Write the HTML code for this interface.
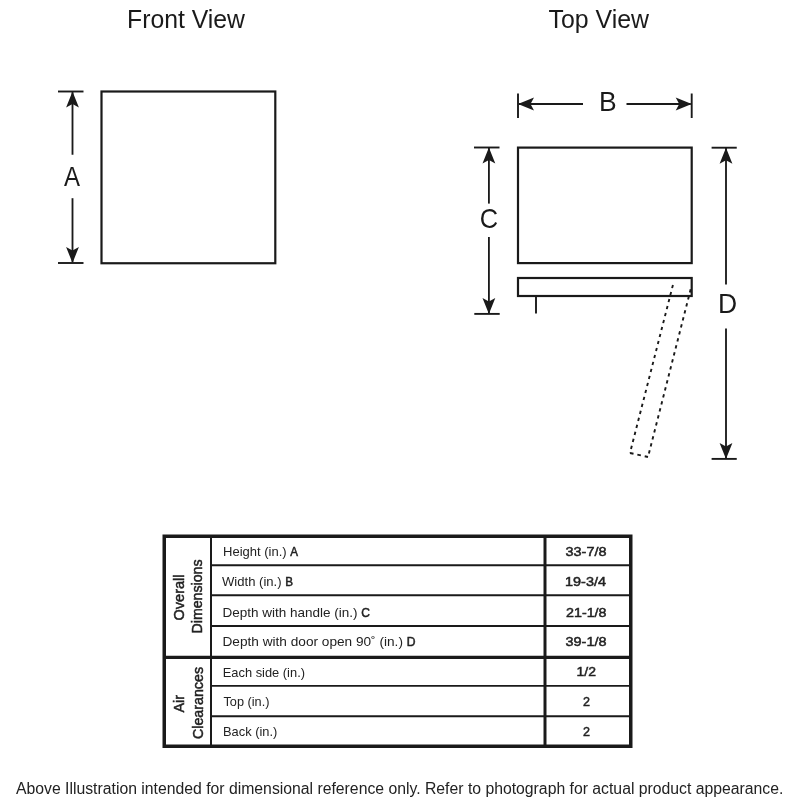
<!DOCTYPE html>
<html><head><meta charset="utf-8">
<style>
html,body{margin:0;padding:0;background:#fff;width:800px;height:800px;overflow:hidden}
svg{position:absolute;left:0;top:0;display:block;will-change:transform}
text{font-family:"Liberation Sans",sans-serif}
</style></head><body>
<svg width="800" height="800" viewBox="0 0 800 800">
<defs>
 <path id="ah" d="M0 0 L6.4 16 L0 12.5 L-6.4 16 Z" fill="#1a1a1a"/>
</defs>
<g fill="#1a1a1a">
 <text x="127" y="27.5" font-size="26" textLength="118" lengthAdjust="spacingAndGlyphs">Front View</text>
 <text x="548.5" y="27.5" font-size="26" textLength="100.5" lengthAdjust="spacingAndGlyphs">Top View</text>
</g>
<g stroke="#1a1a1a" fill="none">
 <!-- Front rect -->
 <rect x="101.5" y="91.5" width="173.8" height="171.75" stroke-width="2.2"/>
 <!-- A dim -->
 <line x1="58" y1="91.5" x2="83.5" y2="91.5" stroke-width="1.9"/>
 <line x1="58" y1="263" x2="83.5" y2="263" stroke-width="1.9"/>
 <line x1="72.5" y1="92" x2="72.5" y2="154.75" stroke-width="1.85"/>
 <line x1="72.5" y1="198.2" x2="72.5" y2="262" stroke-width="1.85"/>
 <!-- Top main rect -->
 <rect x="518" y="147.6" width="173.7" height="115.5" stroke-width="2.2"/>
 <rect x="518" y="278" width="173.7" height="18" stroke-width="2.2"/>
 <line x1="536" y1="296" x2="536" y2="313.6" stroke-width="1.9"/>
 <!-- B dim -->
 <line x1="518" y1="93.5" x2="518" y2="118" stroke-width="1.9"/>
 <line x1="691.7" y1="93.5" x2="691.7" y2="118" stroke-width="1.9"/>
 <line x1="519" y1="104" x2="583" y2="104" stroke-width="1.9"/>
 <line x1="626.5" y1="104" x2="690.7" y2="104" stroke-width="1.9"/>
 <!-- C dim -->
 <line x1="474" y1="147.5" x2="499.5" y2="147.5" stroke-width="1.9"/>
 <line x1="474.3" y1="313.9" x2="499.7" y2="313.9" stroke-width="1.9"/>
 <line x1="488.9" y1="148" x2="488.9" y2="203.6" stroke-width="1.85"/>
 <line x1="488.9" y1="237" x2="488.9" y2="313" stroke-width="1.85"/>
 <!-- D dim -->
 <line x1="711.6" y1="147.7" x2="736.75" y2="147.7" stroke-width="1.9"/>
 <line x1="711.6" y1="458.9" x2="736.75" y2="458.9" stroke-width="1.9"/>
 <line x1="726" y1="148" x2="726" y2="284.6" stroke-width="1.85"/>
 <line x1="726" y1="328.5" x2="726" y2="458" stroke-width="1.85"/>
 <!-- dashed door -->
 <line x1="630" y1="453" x2="673.1" y2="284.3" stroke-width="1.9" stroke-dasharray="3.3 3.92" stroke-dashoffset="3.12"/>
 <line x1="630" y1="453" x2="648" y2="457" stroke-width="1.9" stroke-dasharray="3.6 3.93"/>
 <line x1="648" y1="457" x2="690.9" y2="288.4" stroke-width="1.9" stroke-dasharray="3.3 3.92" stroke-dashoffset="3.57"/>
</g>
<g>
 <use href="#ah" transform="translate(72.5,91.5)"/>
 <use href="#ah" transform="translate(72.5,263) rotate(180)"/>
 <use href="#ah" transform="translate(518,104) rotate(-90)"/>
 <use href="#ah" transform="translate(691.7,104) rotate(90)"/>
 <use href="#ah" transform="translate(488.9,147.5)"/>
 <use href="#ah" transform="translate(488.9,313.9) rotate(180)"/>
 <use href="#ah" transform="translate(726,147.7)"/>
 <use href="#ah" transform="translate(726,458.9) rotate(180)"/>
</g>
<g fill="#1a1a1a" font-size="27">
 <text transform="translate(64,186) scale(0.89,1)">A</text>
 <text transform="translate(599,111.25) scale(0.98,1)">B</text>
 <text transform="translate(479.8,228.4) scale(0.94,1)">C</text>
 <text transform="translate(718,312.75) scale(0.98,1)">D</text>
</g>
<!-- TABLE -->
<g fill="none" stroke="#1a1a1a">
 <rect x="164.25" y="536.25" width="466.5" height="210" stroke-width="3.5"/>
 <line x1="211" y1="536" x2="211" y2="747" stroke-width="2"/>
 <line x1="545" y1="536" x2="545" y2="747" stroke-width="3"/>
 <line x1="211" y1="565.2" x2="631" y2="565.2" stroke-width="1.9"/>
 <line x1="211" y1="595.2" x2="631" y2="595.2" stroke-width="1.9"/>
 <line x1="211" y1="626" x2="631" y2="626" stroke-width="1.9"/>
 <line x1="164" y1="657.3" x2="631" y2="657.3" stroke-width="3.2"/>
 <line x1="211" y1="685.9" x2="631" y2="685.9" stroke-width="1.9"/>
 <line x1="211" y1="716.2" x2="631" y2="716.2" stroke-width="1.9"/>
</g>
<!--ROWS-->
<g fill="#222" font-size="13.5">
 <text x="223.00" y="556.3" textLength="74.98" lengthAdjust="spacingAndGlyphs">Height (in.) <tspan font-size="12" stroke="#222" stroke-width="0.5">A</tspan></text>
 <text x="222.00" y="586.1" textLength="70.99" lengthAdjust="spacingAndGlyphs">Width (in.) <tspan font-size="12" stroke="#222" stroke-width="0.5">B</tspan></text>
 <text x="222.50" y="616.6" textLength="147.50" lengthAdjust="spacingAndGlyphs">Depth with handle (in.) <tspan font-size="12" stroke="#222" stroke-width="0.5">C</tspan></text>
 <text x="222.50" y="646.0" textLength="193.00" lengthAdjust="spacingAndGlyphs">Depth with door open 90˚ (in.) <tspan font-size="12" stroke="#222" stroke-width="0.5">D</tspan></text>
 <text x="222.75" y="676.6" textLength="82.25" lengthAdjust="spacingAndGlyphs">Each side (in.)</text>
 <text x="223.50" y="705.9" textLength="45.98" lengthAdjust="spacingAndGlyphs">Top (in.)</text>
 <text x="223.00" y="735.75" textLength="54.26" lengthAdjust="spacingAndGlyphs">Back (in.)</text>
</g>
<g fill="#222" font-size="13.5" stroke="#222" stroke-width="0.5">
 <text x="565.50" y="556.4" textLength="40.97" lengthAdjust="spacingAndGlyphs">33-7/8</text>
 <text x="565.00" y="586.2" textLength="41.00" lengthAdjust="spacingAndGlyphs">19-3/4</text>
 <text x="566.00" y="617.0" textLength="40.50" lengthAdjust="spacingAndGlyphs">21-1/8</text>
 <text x="565.50" y="646.2" textLength="40.99" lengthAdjust="spacingAndGlyphs">39-1/8</text>
 <text x="576.50" y="676.1" textLength="19.45" lengthAdjust="spacingAndGlyphs">1/2</text>
 <text x="583.00" y="705.5" textLength="7.00" lengthAdjust="spacingAndGlyphs">2</text>
 <text x="583.00" y="735.5" textLength="7.00" lengthAdjust="spacingAndGlyphs">2</text>
</g>
<!--/ROWS-->
<!--LABS-->
<g fill="#222" font-size="14.5" stroke="#222" stroke-width="0.5">
 <text transform="translate(184.12,620.50) rotate(-90)" textLength="46.04" lengthAdjust="spacingAndGlyphs">Overall</text>
 <text transform="translate(201.88,633.50) rotate(-90)" textLength="74.01" lengthAdjust="spacingAndGlyphs">Dimensions</text>
 <text transform="translate(184.00,712.50) rotate(-90)" textLength="17.53" lengthAdjust="spacingAndGlyphs">Air</text>
 <text transform="translate(202.88,739.00) rotate(-90)" textLength="72.01" lengthAdjust="spacingAndGlyphs">Clearances</text>
</g>
<text x="16.00" y="793.6" font-size="16" fill="#222" textLength="767.40" lengthAdjust="spacingAndGlyphs">Above Illustration intended for dimensional reference only. Refer to photograph for actual product appearance.</text>
<!--/LABS-->
</svg>
</body></html>
